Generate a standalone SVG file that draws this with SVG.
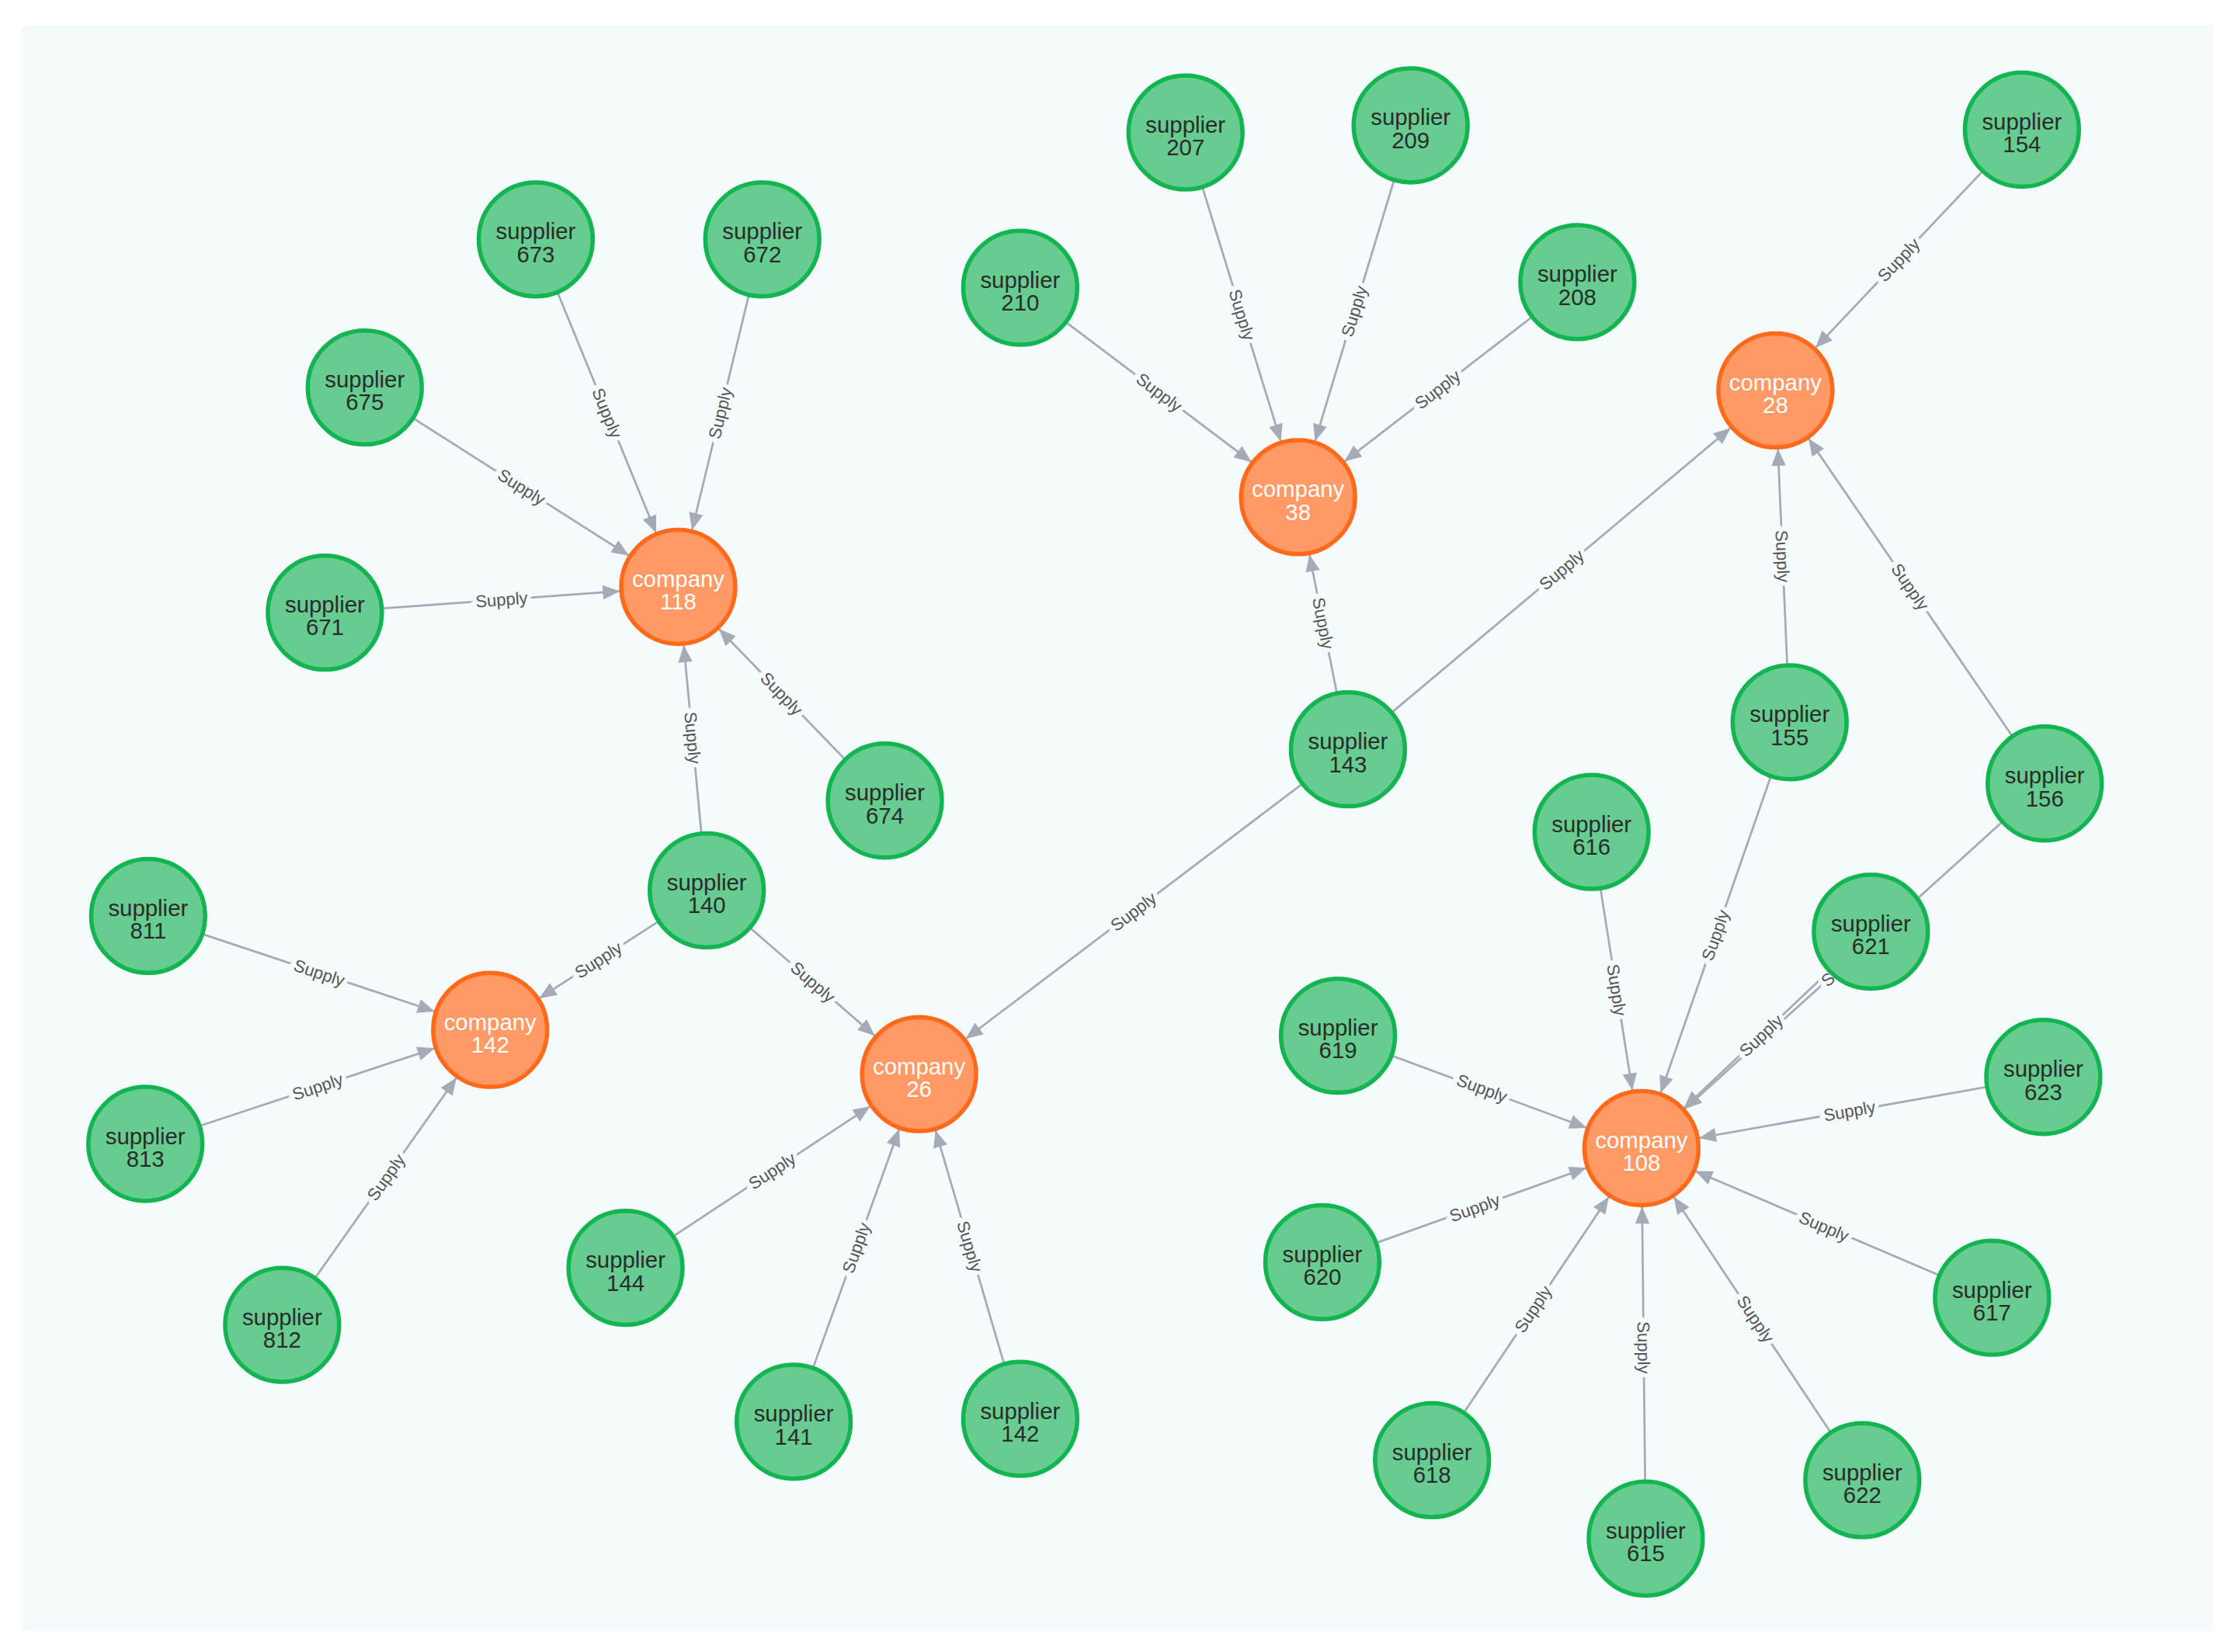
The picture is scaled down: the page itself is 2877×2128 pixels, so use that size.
<svg xmlns="http://www.w3.org/2000/svg" width="2877" height="2128" viewBox="0 0 2877 2128">
<style>
.e{stroke:#a5abb6;stroke-width:1.5;fill:none;marker-end:url(#a)}
.l{font-family:"Liberation Sans",Arial,sans-serif;font-size:12px;fill:#555;text-anchor:middle;dominant-baseline:central;stroke:#f5fafd;stroke-width:6;paint-order:stroke}
.s circle{fill:#66cc8f;stroke:#12b550;stroke-width:3}
.c circle{fill:#ff9966;stroke:#ff6a1a;stroke-width:3}
.s text,.c text{font-family:"Liberation Sans",Arial,sans-serif;font-size:16px;text-anchor:middle}
.s text{fill:#2b2b2b}
.c text{fill:#fff}
</style>
<defs>
<marker id="a" markerUnits="userSpaceOnUse" viewBox="0 0 12 10" refX="53" refY="5" markerWidth="12" markerHeight="10" orient="auto" overflow="visible"><path d="M0,0 L12,5 L0,10 z" fill="#a5abb6"/></marker>
</defs>
<rect width="2877" height="2128" fill="#fff"/>
<g transform="scale(1.835)">
<rect x="15" y="18" width="1538" height="1127" fill="#f5fafd"/>
<g id="edges">
<line class="e" x1="376" y1="168" x2="476" y2="412"/>
<line class="e" x1="535" y1="168" x2="476" y2="412"/>
<line class="e" x1="256" y1="272" x2="476" y2="412"/>
<line class="e" x1="228" y1="430" x2="476" y2="412"/>
<line class="e" x1="621" y1="562" x2="476" y2="412"/>
<line class="e" x1="496" y1="625" x2="476" y2="412"/>
<line class="e" x1="496" y1="625" x2="344" y2="723"/>
<line class="e" x1="496" y1="625" x2="645" y2="754"/>
<line class="e" x1="104" y1="643" x2="344" y2="723"/>
<line class="e" x1="102" y1="803" x2="344" y2="723"/>
<line class="e" x1="198" y1="930" x2="344" y2="723"/>
<line class="e" x1="439" y1="890" x2="645" y2="754"/>
<line class="e" x1="557" y1="998" x2="645" y2="754"/>
<line class="e" x1="716" y1="996" x2="645" y2="754"/>
<line class="e" x1="946" y1="526" x2="645" y2="754"/>
<line class="e" x1="946" y1="526" x2="911" y2="349"/>
<line class="e" x1="946" y1="526" x2="1246" y2="274"/>
<line class="e" x1="716" y1="202" x2="911" y2="349"/>
<line class="e" x1="832" y1="93" x2="911" y2="349"/>
<line class="e" x1="990" y1="88" x2="911" y2="349"/>
<line class="e" x1="1107" y1="198" x2="911" y2="349"/>
<line class="e" x1="1419" y1="91" x2="1246" y2="274"/>
<line class="e" x1="1256" y1="507" x2="1246" y2="274"/>
<line class="e" x1="1435" y1="550" x2="1246" y2="274"/>
<line class="e" x1="1256" y1="507" x2="1152" y2="806"/>
<line class="e" x1="1435" y1="550" x2="1152" y2="806"/>
<line class="e" x1="1117" y1="584" x2="1152" y2="806"/>
<line class="e" x1="1313" y1="654" x2="1152" y2="806"/>
<line class="e" x1="939" y1="727" x2="1152" y2="806"/>
<line class="e" x1="1434" y1="756" x2="1152" y2="806"/>
<line class="e" x1="928" y1="886" x2="1152" y2="806"/>
<line class="e" x1="1398" y1="911" x2="1152" y2="806"/>
<line class="e" x1="1005" y1="1025" x2="1152" y2="806"/>
<line class="e" x1="1155" y1="1080" x2="1152" y2="806"/>
<line class="e" x1="1307" y1="1039" x2="1152" y2="806"/>
<g>
<text class="l" transform="translate(426,290) rotate(67.7)">Supply</text>
<text class="l" transform="translate(505.5,290) rotate(-76.4)">Supply</text>
<text class="l" transform="translate(366,342) rotate(32.5)">Supply</text>
<text class="l" transform="translate(352,421) rotate(-4.2)">Supply</text>
<text class="l" transform="translate(548.5,487) rotate(46)">Supply</text>
<text class="l" transform="translate(486,518) rotate(84.6)">Supply</text>
<text class="l" transform="translate(420,674) rotate(-32.8)">Supply</text>
<text class="l" transform="translate(570.5,689.5) rotate(40.9)">Supply</text>
<text class="l" transform="translate(224,683) rotate(18.4)">Supply</text>
<text class="l" transform="translate(223,763) rotate(-18.3)">Supply</text>
<text class="l" transform="translate(271,826.5) rotate(-54.8)">Supply</text>
<text class="l" transform="translate(542,822) rotate(-33.4)">Supply</text>
<text class="l" transform="translate(601,876) rotate(-70.2)">Supply</text>
<text class="l" transform="translate(680.5,875) rotate(73.6)">Supply</text>
<text class="l" transform="translate(795.5,640) rotate(-37.1)">Supply</text>
<text class="l" transform="translate(928.5,437.5) rotate(78.8)">Supply</text>
<text class="l" transform="translate(1096,400) rotate(-40)">Supply</text>
<text class="l" transform="translate(813.5,275.5) rotate(37)">Supply</text>
<text class="l" transform="translate(871.5,221) rotate(72.9)">Supply</text>
<text class="l" transform="translate(950.5,218.5) rotate(-73.2)">Supply</text>
<text class="l" transform="translate(1009,273.5) rotate(-37.6)">Supply</text>
<text class="l" transform="translate(1332.5,182.5) rotate(-46.6)">Supply</text>
<text class="l" transform="translate(1251,390.5) rotate(87.5)">Supply</text>
<text class="l" transform="translate(1340.5,412) rotate(55.6)">Supply</text>
<text class="l" transform="translate(1204,656.5) rotate(-70.8)">Supply</text>
<text class="l" transform="translate(1293.5,678) rotate(-42.1)">Supply</text>
<text class="l" transform="translate(1134.5,695) rotate(81)">Supply</text>
<text class="l" transform="translate(1236,727) rotate(-43.4)">Supply</text>
<text class="l" transform="translate(1040,764) rotate(20.4)">Supply</text>
<text class="l" transform="translate(1298,780) rotate(-10)">Supply</text>
<text class="l" transform="translate(1035,848) rotate(-19.7)">Supply</text>
<text class="l" transform="translate(1280,861) rotate(23.1)">Supply</text>
<text class="l" transform="translate(1076,919) rotate(-56.1)">Supply</text>
<text class="l" transform="translate(1153.5,946) rotate(89.4)">Supply</text>
<text class="l" transform="translate(1232,926) rotate(56.4)">Supply</text>
</g>
</g>
<g id="company118" class="c"><circle cx="476" cy="412" r="40"/><text x="476" y="412">company</text><text x="476" y="428">118</text></g>
<g id="company38" class="c"><circle cx="911" cy="349" r="40"/><text x="911" y="349">company</text><text x="911" y="365">38</text></g>
<g id="company28" class="c"><circle cx="1246" cy="274" r="40"/><text x="1246" y="274">company</text><text x="1246" y="290">28</text></g>
<g id="company142" class="c"><circle cx="344" cy="723" r="40"/><text x="344" y="723">company</text><text x="344" y="739">142</text></g>
<g id="company26" class="c"><circle cx="645" cy="754" r="40"/><text x="645" y="754">company</text><text x="645" y="770">26</text></g>
<g id="company108" class="c"><circle cx="1152" cy="806" r="40"/><text x="1152" y="806">company</text><text x="1152" y="822">108</text></g>
<g id="supplier673" class="s"><circle cx="376" cy="168" r="40"/><text x="376" y="168">supplier</text><text x="376" y="184">673</text></g>
<g id="supplier672" class="s"><circle cx="535" cy="168" r="40"/><text x="535" y="168">supplier</text><text x="535" y="184">672</text></g>
<g id="supplier675" class="s"><circle cx="256" cy="272" r="40"/><text x="256" y="272">supplier</text><text x="256" y="288">675</text></g>
<g id="supplier671" class="s"><circle cx="228" cy="430" r="40"/><text x="228" y="430">supplier</text><text x="228" y="446">671</text></g>
<g id="supplier674" class="s"><circle cx="621" cy="562" r="40"/><text x="621" y="562">supplier</text><text x="621" y="578">674</text></g>
<g id="supplier140" class="s"><circle cx="496" cy="625" r="40"/><text x="496" y="625">supplier</text><text x="496" y="641">140</text></g>
<g id="supplier811" class="s"><circle cx="104" cy="643" r="40"/><text x="104" y="643">supplier</text><text x="104" y="659">811</text></g>
<g id="supplier813" class="s"><circle cx="102" cy="803" r="40"/><text x="102" y="803">supplier</text><text x="102" y="819">813</text></g>
<g id="supplier812" class="s"><circle cx="198" cy="930" r="40"/><text x="198" y="930">supplier</text><text x="198" y="946">812</text></g>
<g id="supplier144" class="s"><circle cx="439" cy="890" r="40"/><text x="439" y="890">supplier</text><text x="439" y="906">144</text></g>
<g id="supplier141" class="s"><circle cx="557" cy="998" r="40"/><text x="557" y="998">supplier</text><text x="557" y="1014">141</text></g>
<g id="supplier142" class="s"><circle cx="716" cy="996" r="40"/><text x="716" y="996">supplier</text><text x="716" y="1012">142</text></g>
<g id="supplier210" class="s"><circle cx="716" cy="202" r="40"/><text x="716" y="202">supplier</text><text x="716" y="218">210</text></g>
<g id="supplier207" class="s"><circle cx="832" cy="93" r="40"/><text x="832" y="93">supplier</text><text x="832" y="109">207</text></g>
<g id="supplier209" class="s"><circle cx="990" cy="88" r="40"/><text x="990" y="88">supplier</text><text x="990" y="104">209</text></g>
<g id="supplier208" class="s"><circle cx="1107" cy="198" r="40"/><text x="1107" y="198">supplier</text><text x="1107" y="214">208</text></g>
<g id="supplier143" class="s"><circle cx="946" cy="526" r="40"/><text x="946" y="526">supplier</text><text x="946" y="542">143</text></g>
<g id="supplier154" class="s"><circle cx="1419" cy="91" r="40"/><text x="1419" y="91">supplier</text><text x="1419" y="107">154</text></g>
<g id="supplier155" class="s"><circle cx="1256" cy="507" r="40"/><text x="1256" y="507">supplier</text><text x="1256" y="523">155</text></g>
<g id="supplier156" class="s"><circle cx="1435" cy="550" r="40"/><text x="1435" y="550">supplier</text><text x="1435" y="566">156</text></g>
<g id="supplier616" class="s"><circle cx="1117" cy="584" r="40"/><text x="1117" y="584">supplier</text><text x="1117" y="600">616</text></g>
<g id="supplier621" class="s"><circle cx="1313" cy="654" r="40"/><text x="1313" y="654">supplier</text><text x="1313" y="670">621</text></g>
<g id="supplier619" class="s"><circle cx="939" cy="727" r="40"/><text x="939" y="727">supplier</text><text x="939" y="743">619</text></g>
<g id="supplier623" class="s"><circle cx="1434" cy="756" r="40"/><text x="1434" y="756">supplier</text><text x="1434" y="772">623</text></g>
<g id="supplier620" class="s"><circle cx="928" cy="886" r="40"/><text x="928" y="886">supplier</text><text x="928" y="902">620</text></g>
<g id="supplier617" class="s"><circle cx="1398" cy="911" r="40"/><text x="1398" y="911">supplier</text><text x="1398" y="927">617</text></g>
<g id="supplier618" class="s"><circle cx="1005" cy="1025" r="40"/><text x="1005" y="1025">supplier</text><text x="1005" y="1041">618</text></g>
<g id="supplier615" class="s"><circle cx="1155" cy="1080" r="40"/><text x="1155" y="1080">supplier</text><text x="1155" y="1096">615</text></g>
<g id="supplier622" class="s"><circle cx="1307" cy="1039" r="40"/><text x="1307" y="1039">supplier</text><text x="1307" y="1055">622</text></g>
</g>
</svg>
